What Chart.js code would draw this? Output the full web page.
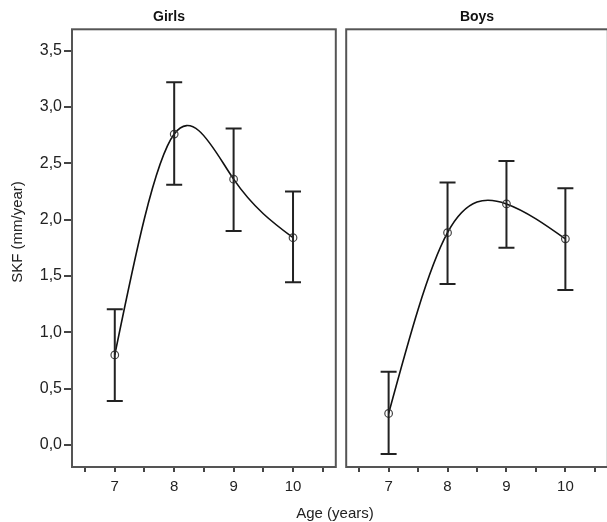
<!DOCTYPE html>
<html>
<head>
<meta charset="utf-8">
<script src="https://cdn.jsdelivr.net/npm/chart.js@4.4.1/dist/chart.umd.min.js"></script>
<style>
  html, body { margin: 0; padding: 0; background: #fff; overflow: hidden; width: 607px; height: 522px; }
  #girls { position: absolute; left: 0; top: 0; }
  #boys { position: absolute; left: 341px; top: 0; }
  .axis-title { position: absolute; text-align: center; white-space: nowrap;
    font: 15px "Liberation Sans", Arial, sans-serif; color: #222; line-height: 18px; }
  #xtitle { left: 275px; width: 120px; top: 504px; }
  #ytitle { left: -43px; width: 120px; top: 223px; transform: rotate(-90deg); }
</style>
</head>
<body>
<canvas id="girls" width="341" height="522"></canvas>
<canvas id="boys" width="272" height="522"></canvas>
<div id="xtitle" class="axis-title">Age (years)</div>
<div id="ytitle" class="axis-title">SKF (mm/year)</div>
<script>
// values
let ages = [7, 8, 9, 10];
let girls_mean = [0.80, 2.76, 2.36, 1.84];
let girls_low = [0.39, 2.31, 1.90, 1.445];
let girls_high = [1.205, 3.22, 2.81, 2.25];
let boys_mean = [0.28, 1.885, 2.14, 1.83];
let boys_low = [-0.08, 1.43, 1.75, 1.376];
let boys_high = [0.65, 2.33, 2.52, 2.28];
let y_ticks = [0, 0.5, 1, 1.5, 2, 2.5, 3, 3.5];
let x_ticks = [6.5, 7, 7.5, 8, 8.5, 9, 9.5, 10, 10.5];

const font_family = '"Liberation Sans", Arial, sans-serif';
Chart.defaults.font.family = font_family;
Chart.defaults.color = '#222';

// second derivatives of a natural cubic spline (tridiagonal solve)
function natural_spline_m(xs, ys) {
    const n = xs.length;
    const m = new Array(n).fill(0);
    if (n < 3) return m;
    const a = [], b = [], c = [], d = [];
    for (let i = 1; i < n - 1; i++) {
        const h0 = xs[i] - xs[i - 1], h1 = xs[i + 1] - xs[i];
        a.push(h0); b.push(2 * (h0 + h1)); c.push(h1);
        d.push(6 * ((ys[i + 1] - ys[i]) / h1 - (ys[i] - ys[i - 1]) / h0));
    }
    const k = b.length;
    for (let i = 1; i < k; i++) {
        const w = a[i] / b[i - 1];
        b[i] -= w * c[i - 1];
        d[i] -= w * d[i - 1];
    }
    const sol = new Array(k);
    sol[k - 1] = d[k - 1] / b[k - 1];
    for (let i = k - 2; i >= 0; i--) sol[i] = (d[i] - c[i] * sol[i + 1]) / b[i];
    for (let i = 0; i < k; i++) m[i + 1] = sol[i];
    return m;
}

// smooth line through the means, drawn as bezier segments through the scales
const spline_plugin = {
    id: 'spline',
    beforeDatasetsDraw(chart) {
        const { ctx, scales } = chart;
        const pts = chart.data.datasets[0].data;
        const xs = pts.map(p => p.x), ys = pts.map(p => p.y);
        const m = natural_spline_m(xs, ys);
        const px = v => scales.x.getPixelForValue(v);
        const py = v => scales.y.getPixelForValue(v);
        ctx.save();
        ctx.strokeStyle = '#111';
        ctx.lineWidth = 1.6;
        ctx.beginPath();
        ctx.moveTo(px(xs[0]), py(ys[0]));
        for (let i = 0; i < xs.length - 1; i++) {
            const h = xs[i + 1] - xs[i];
            const s = (ys[i + 1] - ys[i]) / h;
            const d0 = s - h * (2 * m[i] + m[i + 1]) / 6;
            const d1 = s + h * (m[i] + 2 * m[i + 1]) / 6;
            ctx.bezierCurveTo(
                px(xs[i] + h / 3), py(ys[i] + d0 * h / 3),
                px(xs[i + 1] - h / 3), py(ys[i + 1] - d1 * h / 3),
                px(xs[i + 1]), py(ys[i + 1]));
        }
        ctx.stroke();
        ctx.restore();
    }
};

// frame round the plot area
const frame_plugin = {
    id: 'frame',
    afterDraw(chart) {
        const { ctx, chartArea } = chart;
        ctx.save();
        ctx.strokeStyle = '#555';
        ctx.lineWidth = 2;
        ctx.strokeRect(chartArea.left, chartArea.top, chartArea.right - chartArea.left, chartArea.bottom - chartArea.top);
        ctx.restore();
    }
};

// error bars drawn through the chart scales
const errorbar_plugin = {
    id: 'errorbars',
    afterDatasetsDraw(chart) {
        const { ctx, scales } = chart;
        const ds = chart.data.datasets[0];
        ctx.save();
        ctx.strokeStyle = '#222';
        ctx.lineWidth = 2;
        ds.low.forEach((lo, i) => {
            const x = scales.x.getPixelForValue(ds.data[i].x);
            const y1 = scales.y.getPixelForValue(lo);
            const y2 = scales.y.getPixelForValue(ds.high[i]);
            ctx.beginPath();
            ctx.moveTo(x, y1); ctx.lineTo(x, y2);
            ctx.moveTo(x - 8, y1); ctx.lineTo(x + 8, y1);
            ctx.moveTo(x - 8, y2); ctx.lineTo(x + 8, y2);
            ctx.stroke();
        });
        ctx.restore();
    }
};

function make_chart(el, title, mean, low, high, show_y) {
    return new Chart(el, {
        type: 'line',
        data: {
            datasets: [{
                data: ages.map((a, i) => ({ x: a, y: mean[i] })),
                low: low,
                high: high,
                showLine: false,
                pointRadius: 3.8,
                pointBorderColor: '#444',
                pointBorderWidth: 1.2,
                pointBackgroundColor: 'rgba(0,0,0,0)'
            }]
        },
        options: {
            responsive: false,
            animation: false,
            layout: { padding: { left: show_y ? 0 : 3, right: 3, top: 0, bottom: 0 } },
            plugins: {
                legend: { display: false },
                tooltip: { enabled: false },
                title: {
                    display: true,
                    text: title,
                    font: { size: 14, weight: 'bold', lineHeight: 1.2 },
                    color: '#111',
                    padding: { top: 9, bottom: 3.5 }
                }
            },
            scales: {
                x: {
                    type: 'linear',
                    min: 6.28,
                    max: 10.72,
                    afterBuildTicks: (scale) => { scale.ticks = x_ticks.map(v => ({ value: v })); },
                    afterFit: (scale) => { scale.height = 55; },
                    ticks: {
                        autoSkip: false,
                        maxRotation: 0,
                        padding: 6,
                        font: { size: 15 },
                        color: '#222',
                        callback: (v) => Number.isInteger(v) ? String(v) : ''
                    },
                    grid: { drawOnChartArea: false, drawTicks: true, tickLength: 5, color: '#444', lineWidth: 2 },
                    border: { display: false }
                },
                y: {
                    display: show_y,
                    min: -0.195,
                    max: 3.69,
                    afterBuildTicks: (scale) => { scale.ticks = y_ticks.map(v => ({ value: v })); },
                    afterFit: (scale) => { scale.width = show_y ? 72 : 0; },
                    ticks: {
                        padding: 2,
                        font: { size: 16 },
                        color: '#222',
                        callback: (v) => v.toFixed(1).replace('.', ',')
                    },
                    grid: { drawOnChartArea: false, drawTicks: true, tickLength: 8, color: '#444', lineWidth: 2 },
                    border: { display: false }
                }
            }
        },
        plugins: [spline_plugin, frame_plugin, errorbar_plugin]
    });
}

make_chart(document.getElementById('girls'), 'Girls', girls_mean, girls_low, girls_high, true);
make_chart(document.getElementById('boys'), 'Boys', boys_mean, boys_low, boys_high, false);
</script>
</body>
</html>
